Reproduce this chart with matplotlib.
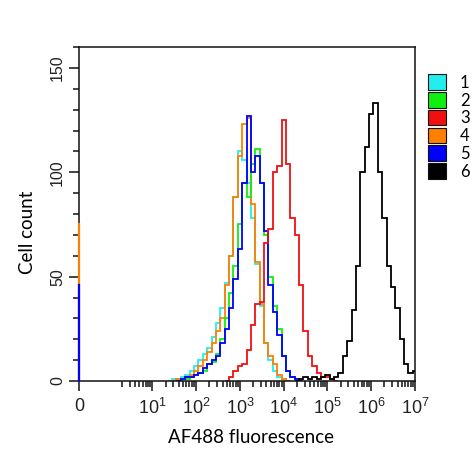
import numpy as np
import matplotlib
matplotlib.use("Agg")
import matplotlib.pyplot as plt
from matplotlib.patches import Patch

# histogram counts, one value per 0.1 decade bin, first bin centre given in log10 units
cyan_start = 1.4
cyan_counts = [0, 1, 1, 2, 3, 5, 7, 10, 13, 16, 21, 28, 35, 47, 60, 88, 110, 106, 95, 78,
               56, 36, 18, 10, 5, 2, 1, 0]

green_start = 1.6
green_counts = [0, 1, 1, 2, 3, 4, 5, 8, 9, 13, 20, 30, 42, 55, 75, 95, 88, 104, 111, 95,
                70, 50, 36, 25, 12, 5, 2, 0]

red_start = 2.7
red_counts = [0, 2, 5, 7, 8, 15, 27, 37, 38, 66, 73, 100, 103, 125, 104, 78, 70, 46, 24, 12,
              7, 4, 2, 2, 1, 0]

orange_start = 1.5
orange_counts = [0, 1, 1, 2, 3, 5, 7, 10, 14, 18, 24, 30, 46, 60, 88, 108, 123, 126, 85, 57,
                 37, 18, 12, 8, 3, 1, 0]

blue_start = 1.6
blue_counts = [0, 1, 2, 2, 3, 4, 6, 8, 10, 12, 18, 25, 35, 49, 63, 95, 127, 100, 108, 95,
               72, 46, 33, 22, 12, 5, 2, 1, 0]

black_start = 4.3
black_counts = [0, 1, 2, 1, 2, 1, 2, 3, 1, 2, 4, 12, 19, 34, 55, 100, 112, 128, 133, 100,
                78, 55, 45, 35, 20, 8, 4, 5]

# events piled up in the zero channel
orange_zero = 75
blue_zero = 46

series_names = ["1", "2", "3", "4", "5", "6"]
series_colors = ["#22EEEE", "#11EE11", "#F01010", "#FF8000", "#0000FF", "#000000"]

x_ticks = [0, 1e1, 1e2, 1e3, 1e4, 1e5, 1e6, 1e7]
x_tick_labels = ["0", "$10^1$", "$10^2$", "$10^3$", "$10^4$", "$10^5$", "$10^6$", "$10^7$"]
y_ticks = [0, 50, 100, 150]

plt.rcParams["font.family"] = ["Liberation Sans", "DejaVu Sans"]
plt.rcParams["mathtext.default"] = "regular"

fig = plt.figure(figsize=(4.73, 4.5), dpi=100)
ax = fig.add_axes([79 / 473, 69 / 450, 336 / 473, 334 / 450])


def draw_hist(start, counts, color, z):
    edges = 10 ** (start - 0.05 + 0.1 * np.arange(len(counts) + 1))
    ax.stairs(counts, edges, color=color, lw=1.3, zorder=z)


draw_hist(cyan_start, cyan_counts, series_colors[0], 2)
draw_hist(orange_start, orange_counts, series_colors[3], 2.1)
draw_hist(green_start, green_counts, series_colors[1], 2.2)
draw_hist(blue_start, blue_counts, series_colors[4], 2.3)
draw_hist(red_start, red_counts, series_colors[2], 2.4)
draw_hist(black_start, black_counts, series_colors[5], 2.5)

ax.plot([0, 0], [0, orange_zero], color=series_colors[3], lw=1.6, clip_on=False, zorder=4)
ax.plot([0, 0], [0, blue_zero], color=series_colors[4], lw=1.6, clip_on=False, zorder=4.1)

ax.set_xscale("symlog", linthresh=1, linscale=0.61)
ax.set_xlim(0, 1e7)
ax.set_ylim(0, 160)

ax.set_xticks(x_ticks)
ax.set_xticklabels(x_tick_labels)
ax.set_xticks([m * 10 ** k for k in range(0, 7) for m in range(2, 10)], minor=True)
ax.set_yticks(y_ticks)
ax.set_yticks(range(0, 161, 10), minor=True)
ax.set_yticklabels([str(v) for v in y_ticks], rotation=90, va="center")

ax.tick_params(which="major", length=7, width=1.1, labelsize=11.5, color="#111111",
               labelcolor="#222222")
ax.tick_params(which="minor", length=4.5, width=1.1, color="#111111")
ax.tick_params(axis="x", which="major", pad=5, labelsize=13)
ax.tick_params(axis="y", which="major", pad=3)
for sp in ax.spines.values():
    sp.set_linewidth(1.1)
    sp.set_color("#111111")

ax.set_xlabel("AF488 fluorescence", fontsize=13.5, family=["Lato", "DejaVu Sans"], va="center")
ax.xaxis.set_label_coords(0.512, -0.168)
ax.set_ylabel("Cell count", fontsize=13.5, family=["Lato", "DejaVu Sans"], va="center")
ax.yaxis.set_label_coords(-0.152, 0.446)

handles = [Patch(facecolor=c, edgecolor="#111111", lw=0.8) for c in series_colors]
fig.legend(handles, series_names, loc="upper left", bbox_to_anchor=(425 / 473, 1 - 71 / 450),
           frameon=False, handlelength=1.05, handleheight=1.05, handletextpad=0.85,
           labelspacing=0.08, borderpad=0.2, borderaxespad=0,
           prop={"family": ["Lato", "DejaVu Sans"], "size": 12})

plt.savefig("out.png", dpi=100)
